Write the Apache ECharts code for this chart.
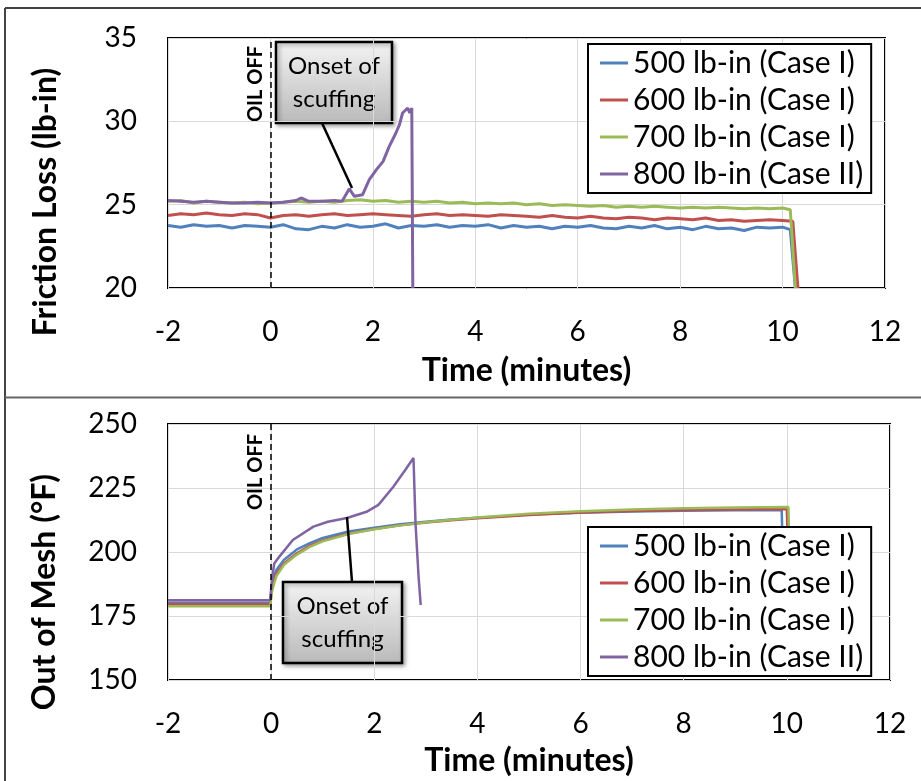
<!DOCTYPE html>
<html><head><meta charset="utf-8">
<script src="https://cdn.jsdelivr.net/npm/echarts@6/dist/echarts.min.js"></script>
<style>html,body{margin:0;padding:0;background:#fff}#c{width:921px;height:781px}</style>
</head><body><div id="c"></div>
<script>
// ---------- DATA ----------
var seriesNames = ['500 lb-in (Case I)', '600 lb-in (Case I)', '700 lb-in (Case I)', '800 lb-in (Case II)'];
var xTicks = [-2, 0, 2, 4, 6, 8, 10, 12];
var frictionTicks = [20, 25, 30, 35];
var meshTicks = [150, 175, 200, 225, 250];

// Friction loss (lb-in) vs time (minutes)
var fBaseTime = [-2,-1.75,-1.5,-1.25,-1,-0.75,-0.5,-0.25,0,0.25,0.5,0.75,1,1.25,1.5,1.75,2,2.25,2.5,2.75,3,3.25,3.5,3.75,4,4.25,4.5,4.75,5,5.25,5.5,5.75,6,6.25,6.5,6.75,7,7.25,7.5,7.75,8,8.25,8.5,8.75,9,9.25,9.5,9.75,10];
var f500 = [23.75,23.65,23.8,23.7,23.75,23.6,23.75,23.7,23.65,23.8,23.55,23.5,23.7,23.6,23.8,23.65,23.7,23.85,23.6,23.75,23.7,23.8,23.65,23.75,23.7,23.8,23.6,23.75,23.65,23.7,23.55,23.7,23.65,23.75,23.6,23.55,23.7,23.6,23.75,23.55,23.65,23.5,23.7,23.55,23.6,23.45,23.65,23.6,23.65];
var f500EndTime = [10.15, 10.25];
var f500End = [23.5, 20];
var f600 = [24.35,24.45,24.4,24.5,24.4,24.35,24.45,24.4,24.2,24.35,24.4,24.3,24.4,24.45,24.35,24.4,24.45,24.4,24.35,24.3,24.4,24.45,24.35,24.4,24.35,24.3,24.4,24.35,24.3,24.25,24.35,24.25,24.2,24.3,24.2,24.15,24.25,24.2,24.1,24.2,24.15,24.1,24.2,24.05,24.1,24.0,24.05,24.1,24.05];
var f600EndTime = [10.2, 10.3];
var f600End = [24.0, 20];
var f700 = [25.2,25.25,25.1,25.2,25.15,25.1,25.15,25.05,25.1,25.15,25.2,25.15,25.2,25.15,25.25,25.3,25.2,25.25,25.15,25.2,25.15,25.2,25.1,25.15,25.05,25.1,25.05,25.1,25.0,25.05,24.95,25.0,24.95,24.9,24.95,24.85,24.9,24.85,24.9,24.85,24.8,24.85,24.8,24.85,24.8,24.75,24.8,24.75,24.8];
var f700EndTime = [10.15, 10.25];
var f700End = [24.7, 20];
var f800Time = [-2,-1.75,-1.5,-1.25,-1,-0.75,-0.5,-0.25,0,0.25,0.5,0.6,0.75,1,1.25,1.4,1.54,1.64,1.8,1.93,2.07,2.2,2.32,2.45,2.52,2.58,2.68,2.72,2.76,2.78];
var f800 = [25.25,25.2,25.15,25.2,25.15,25.1,25.1,25.15,25.1,25.15,25.25,25.4,25.2,25.2,25.25,25.2,25.95,25.5,25.6,26.5,27.1,27.6,28.5,29.3,29.8,30.5,30.8,30.5,30.8,20];

// Out of mesh temperature (°F) vs time (minutes)
var m500Time = [-2,-1,-0.02,0.02,0.1,0.25,0.5,0.75,1,1.5,2,2.5,3,3.5,4,5,6,7,8,9,9.9,9.92];
var m500 = [180.2,180.2,180.2,188,193,197,201,203.5,205.5,208,209.5,210.8,211.8,212.7,213.4,214.6,215.3,215.8,216.1,216.3,216.4,200];
var m600Time = [-2,-1,-0.02,0.02,0.1,0.25,0.5,0.75,1,1.5,2,2.5,3,3.5,4,5,6,7,8,9,10,10.02];
var m600 = [179.6,179.6,179.6,186,191.5,195.5,199.5,202.5,204.5,207.2,209,210.4,211.5,212.4,213.2,214.5,215.4,216,216.4,216.6,216.8,200];
var m700Time = [-2,-1,-0.02,0.02,0.1,0.25,0.5,0.75,1,1.5,2,2.5,3,3.5,4,5,6,7,8,9,10.03,10.05];
var m700 = [178.8,178.8,178.8,185,190.5,195,199,202,204.2,207,208.9,210.4,211.6,212.6,213.5,214.9,215.9,216.6,217.1,217.4,217.6,200];
var m800Time = [-2,-1,-0.02,0.02,0.06,0.16,0.42,0.82,1.1,1.47,1.85,2.08,2.37,2.6,2.76,2.8,2.86,2.9];
var m800 = [181.2,181.2,181.2,190,195.5,198.2,204.7,209.9,211.8,213.3,215.7,218.4,225.5,232,236.7,211,190,179.3];

// ---------- CHART ----------
var colors = ['#4f81bd', '#c0504d', '#9bbb59', '#8064a2'];
function zip(xs, ys) { return xs.map(function (x, i) { return [x, ys[i]]; }); }
var FONT = 'Lato';

function xAxisCfg(gridIndex, nameGap) {
  return {
    gridIndex: gridIndex, type: 'value', min: -2, max: 12, interval: 2,
    name: 'Time (minutes)', nameLocation: 'middle', nameGap: nameGap,
    nameTextStyle: { fontFamily: FONT, fontWeight: 'bold', fontSize: 32, color: '#000' },
    axisLine: { show: false }, axisTick: { show: false },
    axisLabel: { fontFamily: FONT, fontSize: 28, color: '#000', margin: 30,
      formatter: function (v) { return xTicks.indexOf(v) >= 0 ? String(v) : ''; } },
    splitLine: { show: true, lineStyle: { color: '#d9d9d9', width: 1 } }
  };
}
function yAxisCfg(gridIndex, min, max, interval, ticks) {
  return {
    gridIndex: gridIndex, type: 'value', min: min, max: max, interval: interval,
    axisLine: { show: false }, axisTick: { show: false },
    axisLabel: { fontFamily: FONT, fontSize: 28, color: '#000', margin: 31,
      formatter: function (v) { return ticks.indexOf(v) >= 0 ? String(v) : ''; } },
    splitLine: { show: true, lineStyle: { color: '#d9d9d9', width: 1 } }
  };
}
function lineSeries(name, color, data, xi, width, extra) {
  var s = { name: name, type: 'line', xAxisIndex: xi, yAxisIndex: xi, data: data,
    showSymbol: false, symbol: 'none', clip: true, z: 3,
    lineStyle: { color: color, width: width }, itemStyle: { color: color } };
  if (extra) for (var k in extra) s[k] = extra[k];
  return s;
}
var dashMark = { silent: true, symbol: 'none', label: { show: false },
  lineStyle: { type: [6, 4], color: '#000', width: 1.5 }, data: [{ xAxis: 0 }] };

var legendBase = {
  orient: 'vertical', icon: 'rect', itemWidth: 28, itemHeight: 3, itemGap: 5,
  backgroundColor: '#fff', borderColor: '#000', borderWidth: 2, padding: [3, 8, 3, 12],
  selectedMode: false, data: seriesNames,
  textStyle: { fontFamily: FONT, fontSize: 30, color: '#000', lineHeight: 32 }
};

function calloutGroup(x, y, w, h) {
  return {
    type: 'group', x: x, y: y, children: [
      { type: 'rect', shape: { x: 0, y: 0, width: w, height: h },
        style: { fill: new echarts.graphic.LinearGradient(0, 0, 0, 1, [
          { offset: 0, color: '#f4f4f4' }, { offset: 1, color: '#b9b9b9' }]),
          stroke: '#000', lineWidth: 2.5, shadowBlur: 4, shadowOffsetX: 2, shadowOffsetY: 2, shadowColor: 'rgba(0,0,0,0.35)' } },
      { type: 'text', style: { x: w / 2, y: h / 2, text: 'Onset of\nscuffing', fill: '#000',
        font: '24px ' + FONT, align: 'center', verticalAlign: 'middle', lineHeight: 33 } }
    ]
  };
}

var option = {
  animation: false,
  color: colors,
  grid: [
    { left: 168, top: 38, width: 717, height: 250, show: true, borderColor: '#000', borderWidth: 2, backgroundColor: 'transparent' },
    { left: 168, top: 424, width: 722, height: 256, show: true, borderColor: '#000', borderWidth: 2, backgroundColor: 'transparent' }
  ],
  xAxis: [xAxisCfg(0, 67), xAxisCfg(1, 65)],
  yAxis: [yAxisCfg(0, 20, 35, 5, frictionTicks), yAxisCfg(1, 150, 250, 25, meshTicks)],
  legend: [
    Object.assign({}, legendBase, { left: 588, top: 44 }),
    Object.assign({}, legendBase, { left: 588, top: 527 })
  ],
  series: [
    lineSeries(seriesNames[0], colors[0], zip(fBaseTime, f500).concat(zip(f500EndTime, f500End)), 0, 3, { markLine: dashMark }),
    lineSeries(seriesNames[1], colors[1], zip(fBaseTime, f600).concat(zip(f600EndTime, f600End)), 0, 3),
    lineSeries(seriesNames[2], colors[2], zip(fBaseTime, f700).concat(zip(f700EndTime, f700End)), 0, 3),
    lineSeries(seriesNames[3], colors[3], zip(f800Time, f800), 0, 3),
    lineSeries(seriesNames[0], colors[0], zip(m500Time, m500), 1, 2.5, { markLine: dashMark }),
    lineSeries(seriesNames[1], colors[1], zip(m600Time, m600), 1, 2.5),
    lineSeries(seriesNames[2], colors[2], zip(m700Time, m700), 1, 2.5),
    lineSeries(seriesNames[3], colors[3], zip(m800Time, m800), 1, 2.5)
  ],
  graphic: [
    // panel frames
    { type: 'line', shape: { x1: 5, y1: 8, x2: 921, y2: 8 }, style: { stroke: '#444', lineWidth: 2 } },
    { type: 'line', shape: { x1: 5, y1: 8, x2: 5, y2: 781 }, style: { stroke: '#444', lineWidth: 2 } },
    { type: 'line', shape: { x1: 5, y1: 397.5, x2: 921, y2: 397.5 }, style: { stroke: '#666', lineWidth: 2 } },
    // axis titles (vertical)
    { type: 'text', x: 46, y: 202, rotation: Math.PI / 2,
      style: { text: 'Friction Loss (lb-in)', font: 'bold 32px ' + FONT, fill: '#000', align: 'center', verticalAlign: 'middle' } },
    { type: 'text', x: 45, y: 592, rotation: Math.PI / 2,
      style: { text: 'Out of Mesh (°F)', font: 'bold 32px ' + FONT, fill: '#000', align: 'center', verticalAlign: 'middle' } },
    // OIL OFF labels
    { type: 'text', x: 256, y: 84, rotation: Math.PI / 2,
      style: { text: 'OIL OFF', font: 'bold 20px ' + FONT, fill: '#000', align: 'center', verticalAlign: 'middle' } },
    { type: 'text', x: 256, y: 472, rotation: Math.PI / 2,
      style: { text: 'OIL OFF', font: 'bold 20px ' + FONT, fill: '#000', align: 'center', verticalAlign: 'middle' } },
    // leader lines
    { type: 'line', z: 10, shape: { x1: 322, y1: 123, x2: 352, y2: 188 }, style: { stroke: '#000', lineWidth: 2.5 } },
    { type: 'line', z: 10, shape: { x1: 352, y1: 582, x2: 347, y2: 517 }, style: { stroke: '#000', lineWidth: 2.5 } },
    // callouts
    Object.assign(calloutGroup(276, 42, 116, 81), { z: 11 }),
    Object.assign(calloutGroup(283, 582, 119, 81), { z: 11 })
  ]
};
var chart = echarts.init(document.getElementById('c'), null, { renderer: 'canvas' });
chart.setOption(option);
</script>
</body></html>
